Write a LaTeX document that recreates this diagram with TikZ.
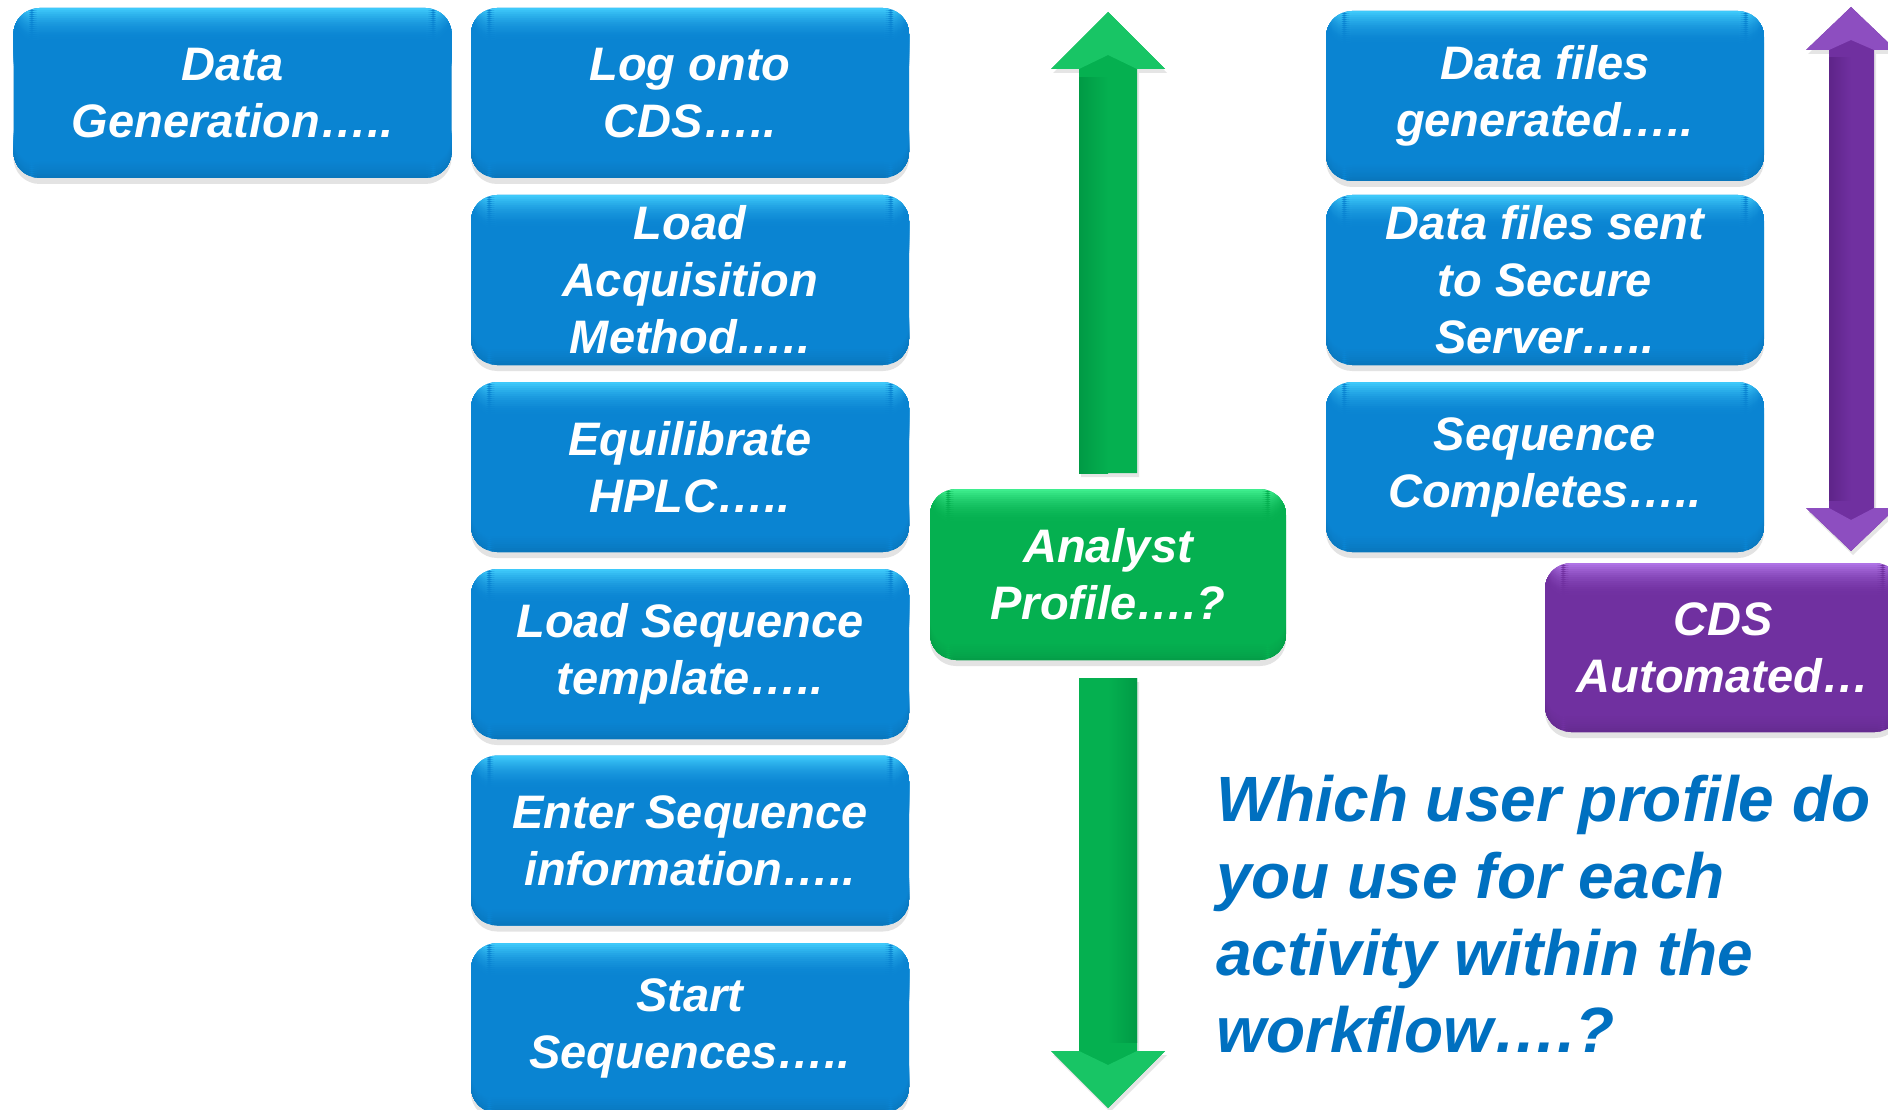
\documentclass[tikz,border=0pt]{standalone}
\usepackage{fontspec}
\setmainfont{Liberation Sans}
\usetikzlibrary{shadows}
\definecolor{bmain}{HTML}{0A84D2}
\definecolor{bhi}{HTML}{45D2FF}
\definecolor{gmain}{HTML}{05B050}
\definecolor{ghi}{HTML}{45F595}
\definecolor{gdark}{HTML}{009A45}
\definecolor{pmain}{HTML}{7030A0}
\definecolor{phi}{HTML}{B77BEF}
\definecolor{pdark}{HTML}{5E2489}
\definecolor{qblue}{HTML}{0070C0}
\newcommand{\boxfont}{\fontsize{47}{57}\selectfont\bfseries\itshape}
\newcommand{\qfont}{\fontsize{64}{77}\selectfont\bfseries\itshape}
\tikzset{
  card/.style={rounded corners=26pt, minimum height=170pt, inner sep=0pt,
    align=center, text=white, font=\boxfont,
    drop shadow={shadow xshift=0pt, shadow yshift=-6pt, opacity=0.22}},
  glossy/.style={card, fill=#1main,
    path picture={
      \foreach \i [evaluate=\i as \p using {int(100*(1-\i/18)^2)}] in {0,...,17}
        \fill[#1hi!\p!#1main]
          ([yshift={2-2*\i}]path picture bounding box.north west) rectangle
          ([yshift={-0.6-2*\i}]path picture bounding box.north east);
      \foreach \i [evaluate=\i as \p using {int(12*(\i/12)^2)}] in {0,...,12}
        \fill[#1main!\the\numexpr 100-\p\relax!black]
          ([yshift={24-2*\i}]path picture bounding box.south west) rectangle
          ([yshift={21.4-2*\i}]path picture bounding box.south east);}},
  bluebox/.style={glossy=b, minimum width=438pt},
  greenbox/.style={glossy=g, minimum width=356pt},
  purplebox/.style={glossy=p, minimum width=356pt},
  arrowshadow/.style={drop shadow={shadow xshift=2pt, shadow yshift=-4pt, opacity=0.2}},
}
\begin{document}
\begin{tikzpicture}[x=1pt,y=-1pt]
\useasboundingbox (0,0) rectangle (1888,1110);
\fill[white] (0,0) rectangle (1888,1110);

% green arrows
\fill[gmain, arrowshadow] (1079,473) -- (1079,69) -- (1051,69) -- (1108,12) -- (1165,69) -- (1137,69) -- (1137,473) -- cycle;
\shade[left color=gdark, right color=gmain] (1079,78) rectangle (1108,473);
\fill[ghi!30!gmain] (1051,69) -- (1108,12) -- (1165,69) -- (1137,69) -- (1108,55) -- (1079,69) -- cycle;

\fill[gmain, arrowshadow] (1079,678) -- (1079,1051) -- (1051,1051) -- (1108,1108) -- (1165,1051) -- (1137,1051) -- (1137,678) -- cycle;
\shade[left color=gmain, right color=gdark] (1108,678) rectangle (1137,1042);
\fill[ghi!30!gmain] (1051,1051) -- (1108,1108) -- (1165,1051) -- (1137,1051) -- (1108,1065) -- (1079,1051) -- cycle;

% purple arrow
\fill[pmain, arrowshadow] (1851,7) -- (1896,50) -- (1874,50) -- (1874,508) -- (1896,508) -- (1851,551) -- (1806,508) -- (1829,508) -- (1829,50) -- (1806,50) -- cycle;
\shade[left color=pdark, right color=pmain] (1829,58) rectangle (1851,500);
\fill[phi!40!pmain] (1806,50) -- (1851,7) -- (1896,50) -- (1874,50) -- (1851,40) -- (1829,50) -- cycle;
\fill[phi!40!pmain] (1806,508) -- (1851,551) -- (1896,508) -- (1874,508) -- (1851,520) -- (1829,508) -- cycle;

% left column
\node[bluebox] (datagen) at (232.5,93) {Data\\Generation…..};

% middle column
\node[bluebox] (logon)   at (690,93)   {Log onto\\CDS…..};
\node[bluebox] (loadacq) at (690,280)  {Load\\Acquisition\\Method…..};
\node[bluebox] (equil)   at (690,467)  {Equilibrate\\HPLC…..};
\node[bluebox] (loadseq) at (690,654)  {Load Sequence\\template…..};
\node[bluebox] (enter)   at (690,840.5){Enter Sequence\\information…..};
\node[bluebox] (start)   at (690,1028) {Start\\Sequences…..};

% analyst
\node[greenbox, minimum height=171pt] (analyst) at (1108,574.5) {Analyst\\Profile….?};

% right column
\node[bluebox] (dfgen)  at (1545,96)  {Data files\\generated…..};
\node[bluebox] (dfsent) at (1545,280) {Data files sent\\to Secure\\Server…..};
\node[bluebox] (seqc)   at (1545,467) {Sequence\\Completes…..};

\node[purplebox, minimum height=169pt] (cds) at (1723,647.5) {CDS\\Automated…};

% question
\node[anchor=north west, inner sep=0pt, align=left, text=qblue, font=\qfont] (question) at (1216,775)
  {Which user profile do\\you use for each\\activity within the\\workflow….?};
\end{tikzpicture}
\end{document}
